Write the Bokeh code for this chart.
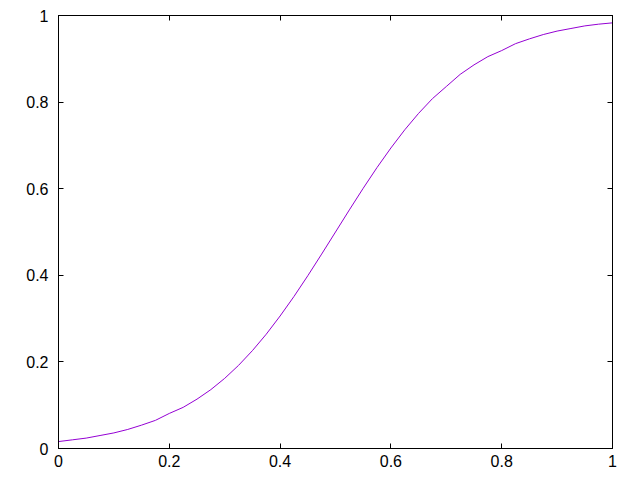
from bokeh.plotting import figure
from bokeh.models import LinearAxis, Range1d, FixedTicker, CustomLabelingPolicy
from bokeh.embed import file_html
from bokeh.resources import INLINE

x_vals = [0.0, 0.025, 0.05, 0.075, 0.1, 0.125, 0.15, 0.175, 0.2, 0.225,
          0.25, 0.275, 0.3, 0.325, 0.35, 0.375, 0.4, 0.425, 0.45, 0.475,
          0.5, 0.525, 0.55, 0.575, 0.6, 0.625, 0.65, 0.675, 0.7, 0.725,
          0.75, 0.775, 0.8, 0.825, 0.85, 0.875, 0.9, 0.925, 0.95, 0.975, 1.0]
y_vals = [0.016, 0.020, 0.024, 0.030, 0.036, 0.044, 0.054, 0.065, 0.081, 0.095,
          0.114, 0.136, 0.162, 0.192, 0.226, 0.264, 0.306, 0.351, 0.399, 0.449,
          0.500, 0.551, 0.601, 0.649, 0.694, 0.736, 0.774, 0.808, 0.836, 0.864,
          0.886, 0.905, 0.919, 0.935, 0.946, 0.956, 0.964, 0.970, 0.976, 0.980, 0.983]
x_ticks = [0, 0.2, 0.4, 0.6, 0.8, 1]
y_ticks = [0, 0.2, 0.4, 0.6, 0.8, 1]
tick_labels = {0: "0", 0.2: "0.2", 0.4: "0.4", 0.6: "0.6", 0.8: "0.8", 1: "1"}

p = figure(width=632, height=472, output_backend="svg", toolbar_location=None,
           x_range=Range1d(0, 1), y_range=Range1d(0, 1),
           min_border_left=58, min_border_right=20, min_border_top=15, min_border_bottom=24,
           x_axis_location=None, y_axis_location=None)
p.grid.visible = False
p.outline_line_color = "black"
p.outline_line_width = 1

def make_axis(ticks, labels):
    ax = LinearAxis()
    ax.ticker = FixedTicker(ticks=ticks)
    ax.major_label_overrides = tick_labels
    ax.major_tick_in = 5
    ax.major_tick_out = 0
    ax.minor_tick_line_color = None
    ax.axis_line_color = "black"
    ax.major_label_text_font = "Liberation Sans"
    ax.major_label_text_font_size = "16px"
    ax.major_label_text_color = "black"
    if not labels:
        ax.major_label_policy = CustomLabelingPolicy(
            code="for (const i of indices) indices.unset(i); return indices")
        ax.major_label_text_font_size = "0px"
        ax.major_label_standoff = 0
    return ax

bottom = make_axis(x_ticks, True)
bottom.major_label_standoff = 6
left = make_axis(y_ticks, True)
left.major_label_standoff = 10
top = make_axis(x_ticks, False)
right = make_axis(y_ticks, False)

p.add_layout(bottom, "below")
p.add_layout(left, "left")
p.add_layout(top, "above")
p.add_layout(right, "right")

p.line(x_vals, y_vals, line_color="#9400d3", line_width=1)

open("out.html", "w").write(file_html(p, INLINE))
